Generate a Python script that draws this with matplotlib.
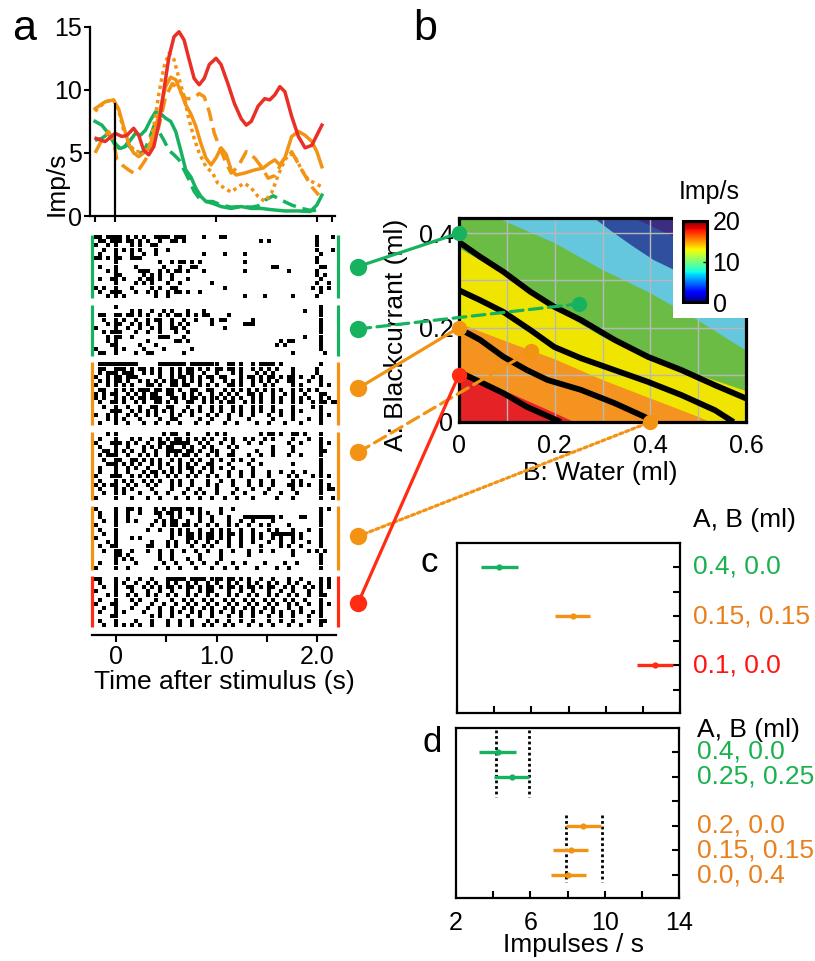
import numpy as np
import matplotlib
matplotlib.use("Agg")
import matplotlib.pyplot as plt
from matplotlib.patches import ConnectionPatch, Rectangle, Polygon
from matplotlib.lines import Line2D
from matplotlib.transforms import blended_transform_factory as blend
from matplotlib.colors import Normalize
from matplotlib.cm import ScalarMappable

plt.rcParams['font.family'] = ['Liberation Sans', 'DejaVu Sans']

# ---------------- data: panel a (PSTH, Imp/s vs time s) ----------------
red_t = [-0.19, -0.1, 0, 0.067, 0.117, 0.183, 0.233, 0.283, 0.333, 0.383, 0.433, 0.483, 0.533,
         0.583, 0.633, 0.683, 0.733, 0.783, 0.833, 0.883, 0.933, 1.0, 1.05, 1.117, 1.183, 1.25,
         1.3, 1.35, 1.417, 1.483, 1.533, 1.583, 1.633, 1.683, 1.75, 1.817, 1.883, 1.95, 2.0, 2.05]
red_v = [6.15, 5.9, 6.55, 6.3, 6.4, 6.95, 6.4, 5.2, 4.85, 5.5, 7.3, 10.0, 12.6,
         14.2, 14.6, 13.95, 12.4, 10.9, 10.4, 10.9, 12.0, 12.5, 12.0, 10.5, 8.9, 7.7,
         7.2, 7.5, 8.7, 9.3, 9.2, 9.6, 10.25, 9.85, 7.9, 6.3, 5.4, 5.6, 6.4, 7.2]

or_solid_t = [-0.2, -0.1, -0.017, 0.033, 0.083, 0.133, 0.183, 0.233, 0.283, 0.333, 0.383, 0.433,
              0.5, 0.55, 0.6, 0.65, 0.7, 0.75, 0.8, 0.85, 0.9, 0.95, 1.0, 1.05, 1.1, 1.15, 1.2,
              1.283, 1.383, 1.467, 1.533, 1.583, 1.633, 1.683, 1.75, 1.817, 1.883, 1.95, 2.0, 2.05]
or_solid_v = [8.5, 9.05, 9.2, 8.5, 7.1, 5.75, 5.0, 4.7, 5.0, 5.35, 6.55, 8.0,
              10.25, 11.0, 10.8, 9.85, 8.8, 8.1, 7.1, 5.75, 4.6, 4.05, 4.6, 5.4, 4.9, 3.65, 3.25,
              3.4, 3.65, 3.8, 4.2, 4.45, 4.05, 4.6, 6.3, 6.7, 6.4, 5.9, 5.1, 3.9]

or_dot_t = [-0.2, -0.1, -0.017, 0.033, 0.083, 0.133, 0.2, 0.267, 0.333, 0.383, 0.433, 0.483, 0.533,
            0.583, 0.633, 0.683, 0.733, 0.783, 0.833, 0.9, 0.967, 1.017, 1.083, 1.15, 1.217, 1.283,
            1.35, 1.417, 1.483, 1.55, 1.617, 1.683, 1.733, 1.783, 1.85, 1.917, 1.983, 2.05]
or_dot_v = [8.3, 9.05, 9.2, 8.4, 6.8, 5.75, 5.1, 5.1, 5.5, 7.1, 9.7, 11.8, 12.9,
            12.4, 10.9, 9.45, 7.6, 6.15, 5.0, 3.9, 3.4, 2.6, 2.2, 1.9, 2.3, 2.6,
            2.2, 1.55, 1.15, 1.8, 3.25, 4.45, 4.95, 4.7, 3.65, 2.85, 2.6, 2.3]

or_dash_t = [-0.2, -0.133, -0.067, -0.017, 0.017, 0.067, 0.133, 0.183, 0.233, 0.3, 0.367, 0.433,
             0.5, 0.567, 0.633, 0.7, 0.767, 0.833, 0.883, 0.933, 0.983, 1.033, 1.1, 1.15, 1.217,
             1.3, 1.383, 1.45, 1.517, 1.583, 1.667, 1.75, 1.85, 1.95, 2.02]
or_dash_v = [5.0, 6.0, 6.7, 6.0, 4.45, 4.05, 3.65, 3.4, 3.65, 4.45, 5.5, 7.1,
             9.45, 10.5, 10.0, 9.3, 9.3, 9.7, 9.45, 8.25, 6.55, 5.5, 4.2, 3.4, 3.9,
             5.1, 4.6, 3.9, 3.0, 3.2, 4.45, 5.1, 3.65, 2.3, 1.65]

gr_solid_t = [-0.2, -0.133, -0.067, 0, 0.05, 0.1, 0.15, 0.2, 0.25, 0.3, 0.35, 0.4, 0.45, 0.5,
              0.55, 0.6, 0.65, 0.7, 0.75, 0.8, 0.85, 0.9, 0.967, 1.05, 1.15, 1.25, 1.35, 1.45,
              1.55, 1.683, 1.817, 1.933, 2.0, 2.05]
gr_solid_v = [7.5, 7.2, 6.55, 5.75, 5.35, 5.5, 6.0, 6.55, 6.4, 6.8, 7.6, 8.25, 8.1, 7.75,
              7.5, 6.7, 5.2, 3.65, 3.1, 2.2, 1.55, 1.15, 1.0, 0.75, 0.6, 0.75, 0.6, 0.6,
              0.5, 0.4, 0.4, 0.35, 0.87, 1.65]

gr_dash_t = [-0.2, -0.133, -0.067, 0, 0.067, 0.117, 0.183, 0.233, 0.283, 0.333, 0.383, 0.433,
             0.483, 0.533, 0.583, 0.633, 0.683, 0.733, 0.783, 0.833, 0.9, 0.967, 1.05, 1.15,
             1.25, 1.35, 1.417, 1.483, 1.567, 1.65, 1.75, 1.85, 1.95, 2.05]
gr_dash_v = [6.0, 6.15, 6.55, 5.6, 5.2, 5.75, 5.1, 4.95, 5.1, 6.0, 7.1, 6.7,
             6.0, 5.2, 4.85, 4.45, 3.65, 2.85, 1.95, 1.4, 1.15, 1.15, 0.87, 0.7,
             0.75, 0.7, 0.8, 1.25, 1.6, 1.25, 0.87, 0.6, 0.42, 0.5]

STIM_LINE_TOP = 8.9   # height of stimulus-onset marker (Imp/s)

# ---------------- data: rasters (spike bins of 40 ms, bin 0 centred at -0.24 s) ----------------
RASTER_T0 = -0.24
RASTER_BIN = 0.04
raster_b1 = [
    [1, 2, 4, 5, 6, 7, 9, 11, 13, 16, 17, 18, 19, 21, 22, 23, 28, 32, 33, 56, 60],
    [2, 3, 5, 6, 7, 9, 10, 12, 14, 17, 20, 21, 23, 42, 44, 56],
    [1, 4, 6, 10, 12, 15, 16, 56],
    [3, 6, 8, 10, 12, 16, 19, 56, 60],
    [2, 6, 10, 13, 16, 28, 33, 38, 57],
    [1, 2, 4, 6, 7, 10, 11, 12, 56],
    [6, 17, 20, 22, 23, 25, 27, 38, 56],
    [2, 6, 11, 18, 22, 25, 26, 45, 46, 57, 58],
    [4, 6, 12, 13, 14, 17, 19, 21, 22, 24, 28, 38, 49, 56],
    [6, 7, 13, 15, 17, 20, 56, 58],
    [2, 5, 6, 8, 12, 14, 15, 17, 20, 24, 57],
    [6, 11, 13, 15, 19, 22, 30, 56, 59],
    [1, 3, 6, 10, 15, 17, 20, 21, 33, 55, 57, 59],
    [2, 5, 6, 7, 11, 14, 16, 19, 21, 22, 24, 27, 57],
    [4, 6, 8, 16, 19, 38, 43, 50, 56],
]
raster_b2 = [
    [6, 57],
    [10, 12, 15, 18, 20, 24, 28, 53, 57],
    [2, 3, 6, 7, 9, 10, 12, 14, 17, 19, 21, 22, 24, 26, 28, 29, 34, 57],
    [3, 6, 8, 11, 14, 16, 17, 20, 23, 26, 30, 32, 33, 40, 57],
    [4, 6, 7, 10, 12, 14, 17, 20, 22, 24, 30, 38, 39, 40, 57],
    [1, 6, 9, 12, 15, 17, 20, 21, 23, 33, 57],
    [3, 5, 6, 7, 11, 14, 17, 21, 24, 57],
    [4, 6, 7, 10, 17, 18, 19, 23, 53, 57],
    [4, 6, 14, 21, 22, 24, 47, 49, 50, 57],
    [5, 6, 12, 16, 46, 48, 57],
    [1, 6, 8, 13, 18, 25, 57],
    [2, 3, 6, 11, 14, 15, 23, 50, 58],
]
raster_b3 = [
    [2, 3, 4, 5, 6, 7, 8, 9, 10, 11, 17, 18, 19, 20, 21, 22, 23, 25, 26, 27, 28, 29, 30, 31, 34, 35, 37, 40, 42, 43, 44, 45, 47, 57],
    [2, 3, 6, 7, 8, 10, 12, 13, 15, 17, 20, 22, 24, 25, 27, 29, 31, 32, 34, 35, 37, 40, 42, 44, 46, 50, 56],
    [2, 4, 5, 6, 8, 9, 10, 13, 15, 17, 20, 22, 24, 25, 28, 31, 35, 37, 41, 43, 45, 50, 56],
    [1, 4, 6, 7, 9, 10, 11, 17, 20, 22, 23, 25, 27, 29, 30, 32, 33, 37, 39, 40, 42, 44, 45, 47, 49, 50, 52, 55, 57],
    [2, 4, 6, 7, 9, 12, 14, 16, 18, 20, 21, 23, 25, 27, 30, 33, 35, 37, 40, 42, 44, 46, 49, 50, 54, 57],
    [1, 4, 6, 8, 10, 14, 15, 17, 20, 21, 23, 24, 27, 29, 31, 34, 35, 37, 40, 43, 45, 50, 52, 57, 59],
    [2, 3, 6, 8, 10, 12, 13, 14, 16, 17, 19, 20, 22, 25, 26, 29, 30, 33, 35, 37, 39, 41, 43, 45, 47, 50, 52, 54, 56],
    [1, 3, 5, 6, 9, 11, 13, 15, 16, 19, 20, 23, 25, 27, 30, 32, 34, 36, 39, 40, 42, 45, 48, 50, 53, 57, 58],
    [1, 3, 6, 8, 10, 12, 13, 15, 16, 17, 20, 21, 23, 25, 26, 28, 30, 31, 33, 35, 37, 40, 42, 45, 47, 50, 52, 54, 57, 59],
    [2, 5, 6, 8, 11, 13, 16, 17, 19, 21, 24, 25, 28, 30, 32, 34, 35, 38, 40, 42, 45, 47, 50, 52, 55, 57, 58, 60, 61],
    [3, 6, 9, 12, 15, 16, 19, 20, 24, 27, 30, 32, 35, 37, 40, 42, 45, 50, 55, 57],
    [5, 6, 7, 10, 12, 14, 16, 18, 20, 23, 25, 27, 30, 32, 35, 37, 40, 42, 45, 47, 50, 52, 57],
    [1, 4, 6, 9, 11, 14, 16, 20, 22, 25, 29, 31, 34, 37, 40, 44, 47, 50, 57, 59],
    [4, 6, 8, 12, 17, 20, 21, 27, 30, 34, 39, 45, 50, 54, 57],
    [2, 6, 9, 13, 16, 19, 22, 26, 29, 33, 36, 41, 44, 48, 52, 57],
]
raster_b4 = [
    [4, 6, 18, 20, 21, 24, 29, 31, 33, 42, 44, 45, 47, 50, 51, 53, 57],
    [2, 6, 10, 12, 15, 17, 19, 21, 22, 24, 26, 28, 30, 33, 35, 38, 40, 43, 45, 50, 54, 57],
    [1, 5, 6, 7, 9, 11, 14, 17, 18, 20, 21, 22, 23, 24, 27, 29, 32, 35, 39, 42, 49, 52, 57, 59],
    [2, 6, 9, 13, 15, 17, 19, 20, 23, 25, 28, 30, 34, 36, 45, 50, 57],
    [3, 4, 6, 8, 10, 13, 16, 19, 20, 21, 22, 24, 25, 27, 30, 31, 35, 41, 45, 50, 57, 58],
    [2, 4, 5, 6, 9, 12, 14, 16, 19, 21, 23, 24, 26, 29, 31, 34, 35, 39, 42, 45, 49, 52, 57],
    [3, 6, 7, 10, 11, 13, 15, 17, 20, 22, 25, 27, 30, 32, 35, 37, 40, 57],
    [4, 5, 6, 8, 10, 12, 15, 17, 19, 22, 24, 26, 29, 30, 34, 39, 42, 50, 57],
    [2, 6, 9, 11, 14, 17, 20, 22, 24, 25, 28, 30, 32, 35, 40, 57],
    [2, 6, 9, 13, 15, 16, 18, 20, 22, 25, 27, 30, 34, 37, 40, 44, 47, 50, 53, 57],
    [1, 5, 6, 7, 10, 12, 14, 16, 19, 21, 24, 26, 29, 31, 34, 37, 40, 44, 49, 51, 55, 57, 59],
    [2, 6, 8, 10, 13, 15, 17, 20, 22, 25, 29, 32, 35, 39, 42, 45, 50, 52, 57],
    [1, 3, 5, 6, 9, 11, 14, 16, 20, 22, 25, 29, 31, 35, 39, 42, 45, 49, 50, 52, 54, 57, 59],
    [2, 6, 8, 10, 15, 20, 24, 27, 31, 36, 40, 44, 50, 57, 59, 60],
    [3, 6, 8, 12, 16, 19, 23, 26, 28, 31, 35, 38, 43, 47, 51, 57],
    [1, 6, 10, 14, 17, 21, 24, 27, 30, 33, 36, 40, 46, 50, 57, 60],
]
raster_b5 = [
    [1, 6, 9, 10, 12, 16, 18, 20, 21, 22, 24, 25, 27, 32, 35, 57, 59],
    [2, 6, 9, 12, 16, 17, 19, 20, 22, 25, 27, 29, 32, 57],
    [2, 6, 9, 17, 20, 22, 27, 30, 34, 38, 39, 40, 41, 42, 43, 44, 45, 47, 52, 53, 57],
    [3, 6, 9, 11, 16, 18, 20, 21, 24, 27, 30, 34, 37, 40, 45, 57],
    [1, 6, 15, 18, 20, 21, 23, 24, 26, 29, 31, 34, 36, 39, 42, 44, 49, 57],
    [2, 6, 14, 17, 20, 22, 24, 27, 30, 32, 34, 37, 40, 44, 46, 50, 54, 57],
    [3, 6, 20, 22, 24, 25, 27, 29, 30, 32, 34, 35, 37, 40, 42, 45, 46, 47, 48, 49, 50, 52, 57],
    [1, 6, 10, 12, 20, 24, 25, 27, 29, 30, 32, 34, 37, 40, 42, 45, 47, 50, 52, 57],
    [4, 6, 15, 19, 21, 24, 26, 29, 31, 34, 37, 40, 44, 47, 50, 54, 57],
    [2, 5, 6, 14, 15, 19, 21, 25, 28, 30, 34, 37, 42, 47, 49, 52, 57],
    [3, 6, 7, 10, 14, 17, 20, 23, 26, 29, 32, 35, 39, 42, 45, 50, 54, 56, 58],
    [6, 7, 9, 17, 20, 27, 32, 39, 50, 57],
    [6, 8, 10, 17, 20, 24, 27, 32, 57],
    [2, 6, 11, 18, 21, 25, 28, 31, 35, 38, 43, 48, 51, 57],
    [1, 6, 9, 16, 19, 22, 26, 30, 33, 36, 41, 46, 49, 57],
]
raster_b6 = [
    [1, 2, 6, 9, 12, 15, 19, 20, 21, 22, 23, 25, 26, 27, 28, 30, 31, 32, 34, 35, 37, 39, 42, 45, 49, 52, 57, 59],
    [2, 6, 8, 11, 14, 16, 19, 21, 24, 26, 29, 31, 34, 36, 39, 41, 44, 46, 49, 51, 54, 57, 59],
    [3, 6, 9, 10, 13, 15, 17, 19, 20, 22, 24, 25, 27, 29, 30, 32, 34, 35, 37, 39, 40, 42, 44, 45, 48, 50, 53, 55, 57, 59],
    [1, 6, 10, 14, 17, 20, 24, 27, 29, 30, 34, 37, 40, 44, 47, 50, 54, 57],
    [4, 6, 9, 11, 14, 16, 19, 21, 24, 26, 29, 31, 34, 36, 39, 41, 44, 46, 49, 51, 54, 57, 58],
    [2, 6, 10, 12, 16, 20, 23, 25, 28, 30, 33, 35, 38, 40, 43, 45, 48, 50, 53, 57],
    [1, 5, 6, 11, 15, 18, 21, 24, 26, 29, 31, 34, 36, 39, 41, 44, 46, 49, 51, 54, 57, 59],
    [3, 6, 10, 14, 17, 20, 23, 25, 28, 30, 33, 35, 38, 40, 43, 45, 49, 52, 57],
    [2, 6, 8, 13, 17, 20, 22, 25, 27, 30, 32, 35, 37, 40, 42, 45, 47, 50, 52, 55, 57],
    [5, 6, 15, 17, 20, 24, 27, 30, 34, 37, 40, 44, 47, 50, 54, 57],
    [2, 6, 11, 15, 19, 22, 25, 29, 31, 34, 37, 40, 44, 47, 50, 54, 57, 58],
    [3, 6, 8, 10, 12, 15, 19, 22, 25, 28, 30, 33, 35, 39, 42, 45, 49, 52, 57],
]
rasters = [raster_b1, raster_b2, raster_b3, raster_b4, raster_b5, raster_b6]

# conditions (B: water ml, A: blackcurrant ml) linked to each raster block
link_B = [0.0, 0.25, 0.0, 0.15, 0.4, 0.0]
link_A = [0.4, 0.25, 0.2, 0.15, 0.0, 0.1]

# ---------------- data: panel b (firing-rate map) ----------------
bound_red_B = [0, 0.1, 0.2, 0.24]
bound_red_A = [0.10, 0.064, 0.019, 0.0]
bound_orange_B = [0, 0.1, 0.2, 0.3, 0.4, 0.5, 0.525]
bound_orange_A = [0.209, 0.17, 0.133, 0.089, 0.05, 0.011, 0.0]
bound_yellow_B = [0, 0.1, 0.2, 0.3, 0.4, 0.5, 0.61]
bound_yellow_A = [0.368, 0.31, 0.24, 0.18, 0.135, 0.10, 0.062]
bound_green_B = [0.08, 0.2, 0.3, 0.4, 0.5, 0.61]
bound_green_A = [0.432, 0.379, 0.322, 0.273, 0.215, 0.145]
bound_lblue_B = [0.282, 0.32, 0.365, 0.407, 0.45, 0.61]
bound_lblue_A = [0.432, 0.403, 0.371, 0.343, 0.322, 0.25]
bound_blue_B = [0.365, 0.45, 0.61]
bound_blue_A = [0.432, 0.392, 0.33]

curve1_B = [0, 0.044, 0.093, 0.149, 0.199, 0.255, 0.325, 0.395, 0.465, 0.535, 0.6]
curve1_A = [0.381, 0.35, 0.318, 0.276, 0.244, 0.216, 0.174, 0.138, 0.11, 0.078, 0.05]
curve2_B = [0, 0.044, 0.093, 0.149, 0.199, 0.255, 0.325, 0.395, 0.465, 0.535, 0.574]
curve2_A = [0.279, 0.258, 0.233, 0.195, 0.159, 0.135, 0.11, 0.085, 0.057, 0.025, 0.0]
curve3_B = [0, 0.044, 0.093, 0.142, 0.185, 0.255, 0.325, 0.388, 0.402]
curve3_A = [0.198, 0.174, 0.138, 0.11, 0.089, 0.068, 0.04, 0.011, 0.0]
curve4_B = [0, 0.044, 0.093, 0.142, 0.213]
curve4_A = [0.106, 0.085, 0.061, 0.032, 0.0]

grid_B = [0.1, 0.2, 0.3, 0.4, 0.5]
grid_A = [0.1, 0.2, 0.3, 0.4]

# ---------------- data: panels c, d ----------------
c_labels = ["0.4, 0.0", "0.15, 0.15", "0.1, 0.0"]
c_pos = [0, 2, 4]
c_mean = [4.28, 8.23, 12.63]
c_err = [1.0, 0.94, 0.97]

d_labels = ["0.4, 0.0", "0.25, 0.25", "0.2, 0.0", "0.15, 0.15", "0.0, 0.4"]
d_pos = [0, 1, 3, 4, 5]
d_mean = [4.24, 4.99, 8.86, 8.18, 8.04]
d_err = [0.99, 0.95, 0.96, 0.95, 0.93]
d_ref_green_x = [4.13, 5.94]
d_ref_green_y = [-0.9, 1.83]
d_ref_orange_x = [7.9, 9.83]
d_ref_orange_y = [2.56, 5.28]

# ---------------- styles ----------------
GREEN = '#17b25f'
ORANGE = '#f39313'
RED = '#ea2f27'
LRED = '#ff2b12'
TXT_GREEN = '#1ab14f'
TXT_ORANGE = '#e8801e'
TXT_RED = '#ff1414'
BAND_COLORS = ['#30509f', '#64c7dd', '#6bbc45', '#f0e500', '#f4931f', '#e52226']
NAVY = '#3c2d83'

W, H = 815, 961
fig = plt.figure(figsize=(W / 100, H / 100), dpi=100)


def box(x0, y0, x1, y1):
    return [x0 / W, 1 - y1 / H, (x1 - x0) / W, (y1 - y0) / H]


FS_TICK = 18
FS_LAB = 19

# ================= panel a: PSTH =================
ax_a = fig.add_axes(box(90, 26.7, 335, 216))
ax_a.set_xlim(-0.25, 2.18)
ax_a.set_ylim(0, 15)
for t, v, c, ls in [(gr_dash_t, gr_dash_v, GREEN, (0, (4, 2))),
                    (gr_solid_t, gr_solid_v, GREEN, '-'),
                    (or_dot_t, or_dot_v, ORANGE, (0, (1, 1.1))),
                    (or_dash_t, or_dash_v, ORANGE, (0, (4, 2))),
                    (or_solid_t, or_solid_v, ORANGE, '-'),
                    (red_t, red_v, RED, '-')]:
    ax_a.plot(t, v, color=c, lw=2.5, ls=ls, solid_joinstyle='round')
ax_a.plot([0, 0], [0, STIM_LINE_TOP], color='k', lw=1.6)
for s in ['top', 'right']:
    ax_a.spines[s].set_visible(False)
for s in ['left', 'bottom']:
    ax_a.spines[s].set_linewidth(1.6)
ax_a.set_xticks([-0.2, 0, 1, 2, 2.15])
ax_a.set_xticklabels([])
ax_a.set_yticks([0, 5, 10, 15])
ax_a.tick_params(axis='both', direction='out', length=4, width=1.5, labelsize=FS_TICK, pad=2)
ax_a.text(-0.135, 0.17, 'Imp/s', transform=ax_a.transAxes, rotation=90,
          ha='center', va='center', fontsize=FS_LAB)

# ================= rasters =================
ax_r = fig.add_axes(box(92, 232, 336, 635))
ax_r.set_xlim(-0.24, 2.19)
TOP_M, GAP, BOT_M = 0.7, 1.6, 1.9
block_colors = [GREEN, GREEN, ORANGE, ORANGE, ORANGE, LRED]
link_styles = ['-', (0, (4, 2)), '-', (0, (4, 2)), (0, (1, 1)), '-']
link_row = [7.5, 5.7, 6.2, 4.8, 7.1, 6.4]
starts = []
y0 = TOP_M
for rows in rasters:
    starts.append(y0)
    y0 += len(rows) + GAP
total = y0 - GAP + BOT_M
ax_r.set_ylim(total, 0)
bt = blend(ax_r.transAxes, ax_r.transData)
for b, rows in enumerate(rasters):
    xs, ys = [], []
    for r, idx in enumerate(rows):
        for i in idx:
            xs.append(RASTER_T0 + RASTER_BIN * i)
            ys.append(starts[b] + r + 0.5)
    ax_r.plot(xs, ys, 's', ms=2.3, mew=0, color='k')
    y_top, y_bot = starts[b], starts[b] + len(rows)
    for xa in (0.0, 1.008):
        ax_r.plot([xa, xa], [y_top, y_bot], transform=bt, color=block_colors[b],
                  lw=2.3, solid_capstyle='butt', clip_on=False)
for s in ['top', 'right', 'left']:
    ax_r.spines[s].set_visible(False)
ax_r.spines['bottom'].set_linewidth(1.6)
ax_r.set_yticks([])
ax_r.set_xticks([0, 0.5, 1.0, 1.5, 2.0])
ax_r.set_xticklabels(['0', '', '1.0', '', '2.0'])
ax_r.tick_params(axis='x', direction='out', length=5, width=1.5, labelsize=FS_TICK, pad=2)
ax_r.text(0.541, -0.117, 'Time after stimulus (s)', transform=ax_r.transAxes,
          ha='center', va='center', fontsize=FS_LAB)

# ================= panel b: map =================
ax_b = fig.add_axes(box(459, 218, 746, 422))
ax_b.set_xlim(0, 0.6)
ax_b.set_ylim(0, 0.432)
ax_b.set_facecolor(NAVY)
bounds = [(bound_blue_B, bound_blue_A), (bound_lblue_B, bound_lblue_A),
          (bound_green_B, bound_green_A), (bound_yellow_B, bound_yellow_A),
          (bound_orange_B, bound_orange_A), (bound_red_B, bound_red_A)]
for (bB, bA), col in zip(bounds, BAND_COLORS):
    verts = [(0, 0), (0, bA[0])] + list(zip(bB, bA)) + [(bB[-1], 0)]
    ax_b.add_patch(Polygon(verts, closed=True, facecolor=col, edgecolor='none', lw=0, zorder=1))
for g in grid_B:
    ax_b.axvline(g, color='#b8b8b8', lw=1.0, zorder=2)
for g in grid_A:
    ax_b.axhline(g, color='#b8b8b8', lw=1.0, zorder=2)
for cB, cA in [(curve1_B, curve1_A), (curve2_B, curve2_A), (curve3_B, curve3_A), (curve4_B, curve4_A)]:
    ax_b.plot(cB, cA, color='k', lw=4.2, zorder=3, solid_capstyle='butt')
for s in ax_b.spines.values():
    s.set_linewidth(2.3)
ax_b.set_xticks([0, 0.2, 0.4, 0.6])
ax_b.set_xticklabels(['0', '0.2', '0.4', '0.6'])
ax_b.set_yticks([0, 0.2, 0.4])
ax_b.set_yticklabels(['0', '0.2', '0.4'])
ax_b.tick_params(axis='x', length=0, labelsize=FS_TICK, pad=9)
ax_b.tick_params(axis='y', length=0, labelsize=FS_TICK, pad=4)
ax_b.text(-0.22, 0.426, 'A: Blackcurrant (ml)', transform=ax_b.transAxes, rotation=90,
          ha='center', va='center', fontsize=FS_LAB)
ax_b.text(0.491, -0.25, 'B: Water (ml)', transform=ax_b.transAxes,
          ha='center', va='center', fontsize=FS_LAB)
ax_b.add_patch(Rectangle((0.7456, 0.5098), 0.30, 0.52, transform=ax_b.transAxes,
                         facecolor='white', edgecolor='none', zorder=4, clip_on=False))

cax = fig.add_axes(box(683, 221, 707, 302))
cb = fig.colorbar(ScalarMappable(norm=Normalize(0, 20), cmap='jet'), cax=cax, ticks=[0, 10, 20])
cb.outline.set_linewidth(2.2)
cax.tick_params(labelsize=FS_TICK, length=3, width=1, direction='in', pad=4)
cax.text(1.1, 1.36, 'Imp/s', transform=cax.transAxes, ha='center', va='center', fontsize=FS_TICK)

# ================= links =================
for b in range(6):
    yb = starts[b] + link_row[b]
    col = block_colors[b]
    con = ConnectionPatch(xyA=(1.09, yb), coordsA=bt, xyB=(link_B[b], link_A[b]),
                          coordsB=ax_b.transData, color=col, lw=2.3, linestyle=link_styles[b])
    con.set_zorder(5)
    fig.add_artist(con)
    fig.add_artist(Line2D([1.09], [yb], transform=bt, marker='o', ms=12.5, mew=0,
                          color=col, zorder=6))
    fig.add_artist(Line2D([link_B[b]], [link_A[b]], transform=ax_b.transData, marker='o',
                          ms=11, mew=0, color=col, zorder=6))


# ================= panels c, d =================
def frame(ax):
    ax.set_xlim(2, 14)
    ax.set_ylim(5.93, -0.97)
    for s in ax.spines.values():
        s.set_linewidth(1.6)
    ax.set_xticks([2, 4, 6, 8, 10, 12, 14])
    ax.set_yticks([0, 1, 2, 3, 4, 5])
    ax.yaxis.tick_right()
    ax.tick_params(axis='y', direction='in', length=5, width=1.5, labelright=False, labelleft=False)
    ax.tick_params(axis='x', direction='in', length=5, width=1.5, labelsize=18, pad=9)


ax_c = fig.add_axes(box(457, 543, 680, 713))
frame(ax_c)
ax_c.set_xticklabels([])
c_cols = [GREEN, ORANGE, LRED]
c_tcols = [TXT_GREEN, TXT_ORANGE, TXT_RED]
tc = blend(ax_c.transAxes, ax_c.transData)
for m, p, e, col, tcol, lab in zip(c_mean, c_pos, c_err, c_cols, c_tcols, c_labels):
    ax_c.errorbar([m], [p], xerr=[e], fmt='o', ms=4.5, color=col, ecolor=col, elinewidth=2.4,
                  capsize=0, mew=0)
    ax_c.text(1.058, p, lab, transform=tc, color=tcol, ha='left', va='center', fontsize=FS_LAB)
ax_c.text(1.058, 1.135, 'A, B (ml)', transform=ax_c.transAxes, ha='left', va='center', fontsize=FS_LAB)

ax_d = fig.add_axes(box(456, 728, 679, 898))
frame(ax_d)
ax_d.set_xticklabels(['2', '', '6', '', '10', '', '14'])
for xv in d_ref_green_x:
    ax_d.plot([xv, xv], d_ref_green_y, color='k', lw=2.0, ls=(0, (1, 1)))
for xv in d_ref_orange_x:
    ax_d.plot([xv, xv], d_ref_orange_y, color='k', lw=2.0, ls=(0, (1, 1)))
d_cols = [GREEN, GREEN, ORANGE, ORANGE, ORANGE]
d_tcols = [TXT_GREEN, TXT_GREEN, TXT_ORANGE, TXT_ORANGE, TXT_ORANGE]
td = blend(ax_d.transAxes, ax_d.transData)
for m, p, e, col, tcol, lab in zip(d_mean, d_pos, d_err, d_cols, d_tcols, d_labels):
    ax_d.errorbar([m], [p], xerr=[e], fmt='o', ms=4.5, color=col, ecolor=col, elinewidth=2.4,
                  capsize=0, mew=0)
    ax_d.text(1.08, p, lab, transform=td, color=tcol, ha='left', va='center', fontsize=FS_LAB)
ax_d.text(1.08, 0.988, 'A, B (ml)', transform=ax_d.transAxes, ha='left', va='center', fontsize=FS_LAB)
ax_d.text(0.525, -0.276, 'Impulses / s', transform=ax_d.transAxes, ha='center', va='center',
          fontsize=FS_LAB)

# ================= panel letters =================
fig.text(12 / W, 1 - 40 / H, 'a', fontsize=31, ha='left', va='baseline')
fig.text(413 / W, 1 - 40 / H, 'b', fontsize=31, ha='left', va='baseline')
fig.text(421 / W, 1 - 572 / H, 'c', fontsize=25, ha='left', va='baseline')
fig.text(422 / W, 1 - 752 / H, 'd', fontsize=25, ha='left', va='baseline')

fig.savefig('out.png', dpi=100)
